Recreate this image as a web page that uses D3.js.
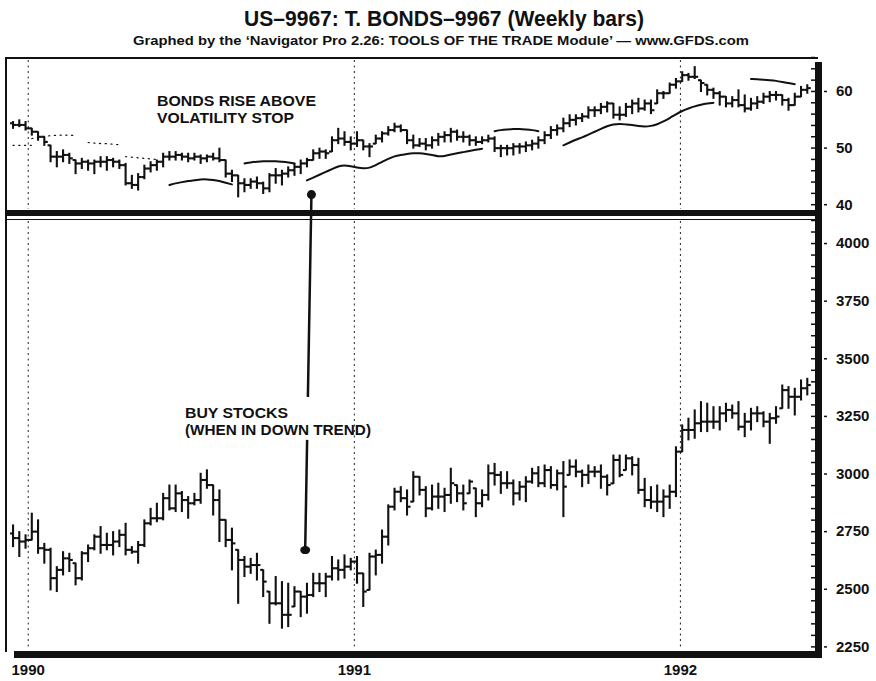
<!DOCTYPE html>
<html>
<head>
<meta charset="utf-8">
<script src="https://cdn.jsdelivr.net/npm/d3@7"></script>
<style>
  body { margin: 0; background: #fff; }
  svg { display: block; }
  text { font-family: "Liberation Sans", Arial, sans-serif; font-weight: bold; fill: #111; }
  .title { font-family: "Liberation Sans Narrow", "Arial Narrow", "Liberation Sans", sans-serif; }
</style>
</head>
<body>
<svg id="chart" width="876" height="681"></svg>
<script>
// first weekly bar (Friday) and year labels
const firstWeek = new Date(1989, 11, 15)
const yearLabels = ["1990", "1991", "1992"]

// T-Bonds weekly bars (open, high, low, close)
const bondOpen = [54.3,54.0,54.0,53.4,52.8,51.9,50.4,48.4,48.4,48.7,47.8,47.2,47.5,47.2,47.5,47.5,47.8,47.5,46.9,43.7,
  43.4,44.8,46.3,46.9,47.5,48.4,48.4,48.7,48.4,48.1,48.4,48.1,48.4,48.1,47.8,45.4,45.1,43.7,43.4,44.0,
  43.7,42.8,45.1,45.1,45.4,46.0,46.6,47.2,47.8,49.0,49.3,49.3,51.3,51.6,51.0,50.7,51.3,50.2,50.7,51.6,
  52.5,53.1,53.7,53.1,51.3,50.4,50.7,50.4,51.3,51.9,52.2,52.8,51.9,51.9,51.3,51.0,51.3,51.6,49.9,49.9,
  49.9,50.2,50.2,50.4,50.7,51.3,52.2,53.1,53.4,54.3,54.9,55.2,55.5,56.6,56.6,57.2,57.8,55.8,55.8,57.2,
  57.8,56.9,57.8,57.8,59.6,59.6,61.1,61.7,62.8,62.5,61.9,61.1,60.2,59.6,59.0,57.8,58.4,57.5,56.9,57.8,
  58.1,59.0,59.3,59.3,58.4,57.5,59.0,60.2]
const bondHigh = [54.6,54.9,54.6,53.4,52.8,51.9,50.4,49.3,49.6,49.0,47.8,48.1,47.8,47.8,48.4,48.4,48.1,47.8,47.2,45.1,
  45.4,46.9,47.5,47.8,49.0,49.3,49.3,49.0,49.0,49.0,48.7,48.7,49.0,49.9,47.8,46.0,45.1,44.5,44.5,44.8,
  43.9,45.4,46.3,46.0,46.6,47.2,47.8,48.1,49.6,49.9,49.6,51.9,53.4,52.8,51.9,52.8,51.3,50.7,52.2,52.8,
  53.7,54.3,54.0,53.1,52.2,51.6,51.6,51.9,52.5,52.8,53.4,53.1,52.8,52.2,51.9,51.9,52.2,51.9,50.4,50.4,
  50.7,50.7,51.0,51.3,51.9,52.8,53.7,54.0,55.2,55.8,55.8,56.0,57.2,57.2,57.8,58.1,57.8,57.2,57.8,58.4,
  58.7,58.4,58.4,60.2,59.9,61.4,62.2,63.4,63.1,64.3,61.9,61.1,60.5,59.9,59.0,59.0,60.2,59.3,58.7,59.0,
  59.6,59.9,59.9,59.3,58.7,59.6,60.8,61.1]
const bondLow = [53.4,53.7,53.1,52.2,51.3,50.4,47.5,46.6,47.5,47.2,45.4,46.3,46.0,45.4,46.6,46.0,46.6,46.3,43.4,42.8,
  42.5,44.5,45.7,46.0,46.6,47.8,47.8,47.8,47.5,47.8,47.2,47.5,47.8,47.5,44.8,44.0,41.3,42.2,42.8,42.8,
  41.9,42.2,43.7,43.4,44.8,45.1,45.4,46.6,47.8,48.1,48.1,49.3,50.7,50.4,49.6,50.2,49.6,48.4,50.7,51.0,
  52.2,52.8,52.8,50.7,49.9,50.2,49.6,49.9,50.4,51.0,51.0,51.3,51.0,50.4,50.4,50.7,51.0,49.3,48.4,48.7,
  48.7,49.0,49.3,49.6,49.9,50.7,51.6,52.2,52.8,53.7,54.0,54.6,55.2,55.5,56.0,56.3,55.2,54.9,55.5,56.0,
  56.3,56.6,56.0,57.8,58.7,59.6,60.5,61.7,61.9,62.2,59.9,59.3,58.7,57.5,57.2,57.2,57.2,56.3,56.6,56.9,
  57.8,58.1,58.4,57.5,56.6,57.5,59.0,59.6]
const bondClose = [54.0,54.0,53.4,52.8,51.9,51.0,48.4,48.4,48.7,48.1,47.2,47.5,47.2,47.5,47.5,47.8,47.5,46.9,43.7,43.4,
  44.8,46.3,46.9,47.5,48.4,48.4,48.7,48.4,48.1,48.4,48.1,48.4,48.1,47.8,45.4,45.1,43.7,43.4,44.0,43.7,
  42.8,45.1,45.1,45.4,46.0,46.6,47.2,47.8,49.0,49.3,49.0,51.3,51.6,51.0,50.7,51.3,50.2,50.2,51.6,52.5,
  53.1,53.7,53.1,51.3,50.4,50.7,50.4,51.3,51.9,52.2,52.8,51.9,51.9,51.3,51.0,51.3,51.6,49.9,49.9,49.9,
  50.2,50.2,50.4,50.7,51.3,52.2,53.1,53.4,54.3,54.9,55.2,55.5,56.6,56.6,57.2,57.8,55.8,55.8,57.2,57.8,
  56.9,57.8,56.6,59.6,59.6,61.1,61.7,62.8,62.5,62.5,61.4,60.2,59.6,59.0,57.8,58.4,57.5,56.9,57.8,58.1,
  59.0,59.3,59.3,58.4,57.5,59.0,60.2,60.5]

// stock index weekly bars (open, high, low, close)
const stockOpen = [2740,2720,2705,2712,2748,2676,2669,2546,2582,2632,2611,2546,2654,2676,2726,2690,2690,2705,2734,2669,
  2661,2690,2784,2806,2806,2893,2849,2914,2885,2871,2885,2972,2950,2885,2799,2712,2669,2625,2596,2603,
  2582,2488,2437,2437,2387,2423,2488,2466,2473,2524,2524,2553,2589,2582,2596,2618,2567,2495,2640,2647,
  2726,2856,2921,2893,2878,2986,2929,2849,2900,2900,2907,2950,2914,2914,2936,2871,2907,3001,2994,2958,
  2958,2914,2943,2965,3001,2958,3015,2950,3001,2994,3030,3008,2994,3008,3008,2986,2957,3059,3015,3066,
  3037,2929,2885,2878,2878,2900,2921,3095,3189,3189,3218,3225,3225,3225,3261,3276,3261,3203,3225,3261,
  3261,3225,3240,3283,3362,3333,3333,3370]
const stockHigh = [2777,2748,2734,2828,2799,2697,2676,2596,2661,2654,2611,2661,2690,2734,2770,2741,2748,2755,2784,2683,
  2705,2799,2849,2871,2914,2950,2950,2922,2900,2914,3001,3016,2950,2929,2799,2763,2669,2640,2632,2654,
  2582,2488,2553,2531,2524,2509,2488,2524,2567,2567,2567,2640,2625,2647,2632,2640,2567,2654,2668,2755,
  2864,2936,2943,2929,3008,2986,2943,2950,2958,2936,3023,2950,2950,2972,2936,2929,3037,3044,3008,3008,
  2972,2965,2986,3023,3030,3037,3030,3015,3052,3059,3059,3015,3037,3030,3037,2994,3080,3080,3080,3073,
  3066,2979,2943,2950,2929,2950,3116,3211,3240,3276,3312,3305,3290,3290,3305,3297,3312,3261,3283,3290,
  3268,3261,3290,3384,3377,3370,3406,3413]
const stockLow = [2683,2640,2676,2712,2654,2611,2495,2488,2560,2575,2517,2538,2618,2669,2654,2669,2647,2683,2647,2654,
  2611,2683,2777,2791,2799,2842,2835,2835,2806,2864,2871,2936,2820,2705,2683,2582,2437,2553,2567,2538,
  2466,2350,2430,2329,2336,2423,2379,2394,2466,2488,2466,2538,2538,2546,2582,2524,2423,2495,2560,2611,
  2690,2842,2878,2820,2878,2907,2813,2842,2849,2835,2871,2878,2842,2914,2813,2856,2885,2950,2914,2936,
  2864,2885,2878,2958,2943,2943,2936,2929,2813,2994,2986,2943,2957,2986,2936,2907,2957,2986,3015,2994,
  2914,2856,2849,2835,2813,2849,2900,3095,3146,3153,3182,3182,3196,3189,3225,3240,3189,3160,3189,3225,
  3203,3131,3218,3283,3283,3254,3319,3341]
const stockClose = [2720,2705,2712,2748,2676,2669,2546,2582,2632,2625,2546,2654,2676,2726,2690,2690,2705,2734,2669,2661,
  2690,2784,2806,2806,2893,2849,2914,2885,2871,2885,2972,2950,2885,2799,2712,2697,2625,2596,2603,2603,
  2531,2437,2437,2387,2387,2488,2466,2473,2524,2524,2553,2589,2582,2596,2618,2567,2488,2640,2647,2726,
  2856,2921,2893,2856,2986,2929,2849,2900,2900,2907,2958,2914,2871,2965,2871,2907,3001,2994,2958,2958,
  2914,2943,2965,3001,2958,3015,2950,3001,2943,3030,3008,2994,3008,3008,2986,2950,3059,2994,3066,3037,
  2929,2885,2878,2878,2900,2921,3095,3189,3189,3218,3225,3225,3225,3261,3276,3261,3203,3225,3261,3261,
  3225,3240,3247,3362,3333,3333,3370,3384]

// volatility stop segments: first week index, weekly values, dotted or solid
const stopStart = [0, 3, 12, 18, 25, 37, 47, 77, 88, 118]
const stopDotted = [true, true, true, true, false, false, false, false, false, false]
const stopValues = [
  [50.4, 50.4, 50.4, 50.4],
  [51.6, 51.8, 52.0, 52.1, 52.2, 52.2, 52.2, 52.1],
  [50.9, 50.8, 50.7, 50.7, 50.6, 50.5],
  [48.4, 48.3, 48.2, 48.1, 48.0, 47.9],
  [43.4, 43.7, 43.9, 44.1, 44.2, 44.4, 44.4, 44.3, 44.1, 43.8, 43.5],
  [47.2, 47.4, 47.5, 47.6, 47.6, 47.6, 47.5, 47.4, 47.2],
  [44.2, 44.7, 45.2, 45.7, 46.2, 46.7, 46.9, 46.7, 46.5, 46.3, 46.4, 46.9, 47.5, 48.0, 48.5,
   48.7, 48.9, 49.0, 49.0, 48.9, 48.7, 48.4, 48.5, 48.8, 49.0, 49.2, 49.4, 49.6, 49.8],
  [52.9, 53.1, 53.2, 53.3, 53.3, 53.2, 53.1, 52.9],
  [50.4, 50.9, 51.4, 51.8, 52.3, 52.8, 53.3, 53.8, 54.1, 54.2, 54.1, 54.0, 53.8, 53.7, 53.8,
   54.1, 54.6, 55.2, 55.9, 56.5, 56.9, 57.3, 57.6, 57.8, 57.9],
  [62.1, 62.1, 62.0, 61.9, 61.8, 61.6, 61.4, 61.2]
]

const bondTicks = [40, 50, 60]
const stockTicks = [2250, 2500, 2750, 3000, 3250, 3500, 3750, 4000]

// annotation anchors
const buyBondDate = new Date(1990, 10, 14), buyBondValue = 41.7
const buyStockDate = new Date(1990, 10, 7), buyStockValue = 2668

const svg = d3.select("#chart")
const weekDate = i => d3.timeDay.offset(firstWeek, 7 * i)

const x = d3.scaleTime()
  .domain([new Date(1989, 11, 6), new Date(1992, 5, 3)])
  .range([5, 818])
const yBond = d3.scaleLinear().domain([38.8, 66]).range([211, 57])
const yStock = d3.scaleLinear().domain([2217, 4113]).range([654, 217])

function make_bars(open, high, low, close) {
  return close.map((c, i) => ({date: weekDate(i), o: open[i], h: high[i], l: low[i], c: c}))
}

function draw_bars(bars, y) {
  let g = svg.append("g").attr("stroke", "#111").attr("stroke-width", 2.1)
  bars.forEach(d => {
    let cx = x(d.date)
    g.append("line").attr("x1", cx).attr("x2", cx).attr("y1", y(d.h) - 0.5).attr("y2", y(d.l) + 0.5)
    g.append("line").attr("x1", cx - 3).attr("x2", cx).attr("y1", y(d.o)).attr("y2", y(d.o))
    g.append("line").attr("x1", cx).attr("x2", cx + 3.5).attr("y1", y(d.c)).attr("y2", y(d.c))
  })
}

function draw_frame() {
  let f = svg.append("g")
  // year separators
  yearLabels.forEach(yr => {
    let xx = x(new Date(+yr, 0, 1))
    f.append("line").attr("x1", xx).attr("x2", xx).attr("y1", 60).attr("y2", 209)
      .attr("stroke", "#222").attr("stroke-width", 1).attr("stroke-dasharray", "2,3.5")
    f.append("line").attr("x1", xx).attr("x2", xx).attr("y1", 221).attr("y2", 650)
      .attr("stroke", "#222").attr("stroke-width", 1).attr("stroke-dasharray", "2,3.5")
  })
  f.append("line").attr("x1", 5).attr("x2", 818).attr("y1", 58).attr("y2", 58)
    .attr("stroke", "#111").attr("stroke-width", 2)
  f.append("line").attr("x1", 6).attr("x2", 6).attr("y1", 58).attr("y2", 652)
    .attr("stroke", "#111").attr("stroke-width", 2)
  f.append("rect").attr("x", 5).attr("y", 210).attr("width", 813).attr("height", 6).attr("fill", "#111")
  f.append("line").attr("x1", 5).attr("x2", 818).attr("y1", 219.5).attr("y2", 219.5)
    .attr("stroke", "#111").attr("stroke-width", 1)
  f.append("rect").attr("x", 14).attr("y", 651).attr("width", 808).attr("height", 7).attr("fill", "#111")
  f.append("rect").attr("x", 815).attr("y", 62).attr("width", 7).attr("height", 596).attr("fill", "#111")
}

function draw_axes() {
  let fmt = d3.format("d")
  let bondAxis = d3.axisRight(yBond).tickValues(bondTicks).tickFormat(fmt)
    .tickSizeInner(3).tickSizeOuter(0).tickPadding(9)
  svg.append("g").attr("class", "axis").attr("transform", "translate(824,0)").call(bondAxis)
  let stockAxis = d3.axisRight(yStock).tickValues(stockTicks).tickFormat(fmt)
    .tickSizeInner(3).tickSizeOuter(0).tickPadding(9)
  svg.append("g").attr("class", "axis").attr("transform", "translate(824,0)").call(stockAxis)

  let bondMinor = d3.axisLeft(yBond).ticks(15).tickSize(4).tickFormat("")
  svg.append("g").attr("class", "minor").attr("transform", "translate(815,0)").call(bondMinor)
  let stockMinor = d3.axisLeft(yStock).tickValues(yStock.ticks(40).filter(v => v > 2225)).tickSize(4).tickFormat("")
  svg.append("g").attr("class", "minor").attr("transform", "translate(815,0)").call(stockMinor)

  svg.selectAll(".axis path, .minor path").remove()
  svg.selectAll(".axis line, .minor line").attr("stroke", "#111").attr("stroke-width", 1.5)
  svg.selectAll(".axis text").attr("font-size", 15).attr("font-family", "Liberation Sans, Arial, sans-serif")
    .attr("font-weight", "bold").attr("fill", "#111")

  svg.append("g").selectAll("text").data(yearLabels).enter().append("text")
    .attr("x", d => x(new Date(+d, 0, 1)))
    .attr("y", 675)
    .attr("text-anchor", "middle")
    .attr("font-size", 15)
    .text(d => d)
}

function draw_stops() {
  let line = d3.line().curve(d3.curveBasis)
    .x(d => x(d.date)).y(d => yBond(d.v))
  stopStart.forEach((s, k) => {
    let pts = stopValues[k].map((v, j) => ({date: weekDate(s + j), v: v}))
    svg.append("path").datum(pts)
      .attr("d", line)
      .attr("fill", "none")
      .attr("stroke", "#111")
      .attr("stroke-width", stopDotted[k] ? 1.2 : 2)
      .attr("stroke-dasharray", stopDotted[k] ? "1.2,4.5" : null)
      .attr("stroke-linecap", "round")
  })
}

function draw_notes() {
  let top = [x(buyBondDate), yBond(buyBondValue)]
  let bottom = [x(buyStockDate), yStock(buyStockValue)]
  let gapTop = yStock(3332), gapBottom = yStock(3146)
  let xAt = yy => top[0] + (bottom[0] - top[0]) * (yy - top[1]) / (bottom[1] - top[1])
  let g = svg.append("g")
  g.append("line").attr("x1", top[0]).attr("y1", top[1]).attr("x2", xAt(gapTop)).attr("y2", gapTop)
    .attr("stroke", "#111").attr("stroke-width", 2.5)
  g.append("line").attr("x1", xAt(gapBottom)).attr("y1", gapBottom).attr("x2", bottom[0]).attr("y2", bottom[1])
    .attr("stroke", "#111").attr("stroke-width", 2.5)
  g.append("circle").attr("cx", top[0]).attr("cy", top[1]).attr("r", 4.5).attr("fill", "#111")
  g.append("ellipse").attr("cx", bottom[0]).attr("cy", bottom[1]).attr("rx", 5).attr("ry", 4).attr("fill", "#111")

  let notes = [
    ["BONDS RISE ABOVE", 157, 106, 159],
    ["VOLATILITY STOP", 157, 123, 137],
    ["BUY STOCKS", 185, 418, 103],
    ["(WHEN IN DOWN TREND)", 185, 435, 186]
  ]
  notes.forEach(n => {
    svg.append("text").attr("x", n[1]).attr("y", n[2]).attr("font-size", 14.5)
      .attr("textLength", n[3]).attr("lengthAdjust", "spacingAndGlyphs").text(n[0])
  })
}

function draw_titles() {
  svg.append("text").attr("class", "title").attr("x", 444).attr("y", 26).attr("text-anchor", "middle")
    .attr("font-size", 22).attr("textLength", 400).attr("lengthAdjust", "spacingAndGlyphs")
    .text("US\u20139967: T. BONDS\u20139967 (Weekly bars)")
  svg.append("text").attr("class", "title").attr("x", 441).attr("y", 45).attr("text-anchor", "middle")
    .attr("font-size", 13).attr("textLength", 616).attr("lengthAdjust", "spacingAndGlyphs")
    .text("Graphed by the \u2018Navigator Pro 2.26: TOOLS OF THE TRADE Module\u2019 \u2014 www.GFDS.com")
}

function visualize() {
  draw_titles()
  draw_frame()
  draw_axes()
  draw_stops()
  draw_bars(make_bars(bondOpen, bondHigh, bondLow, bondClose), yBond)
  draw_bars(make_bars(stockOpen, stockHigh, stockLow, stockClose), yStock)
  draw_notes()
}

visualize()
</script>
</body>
</html>
